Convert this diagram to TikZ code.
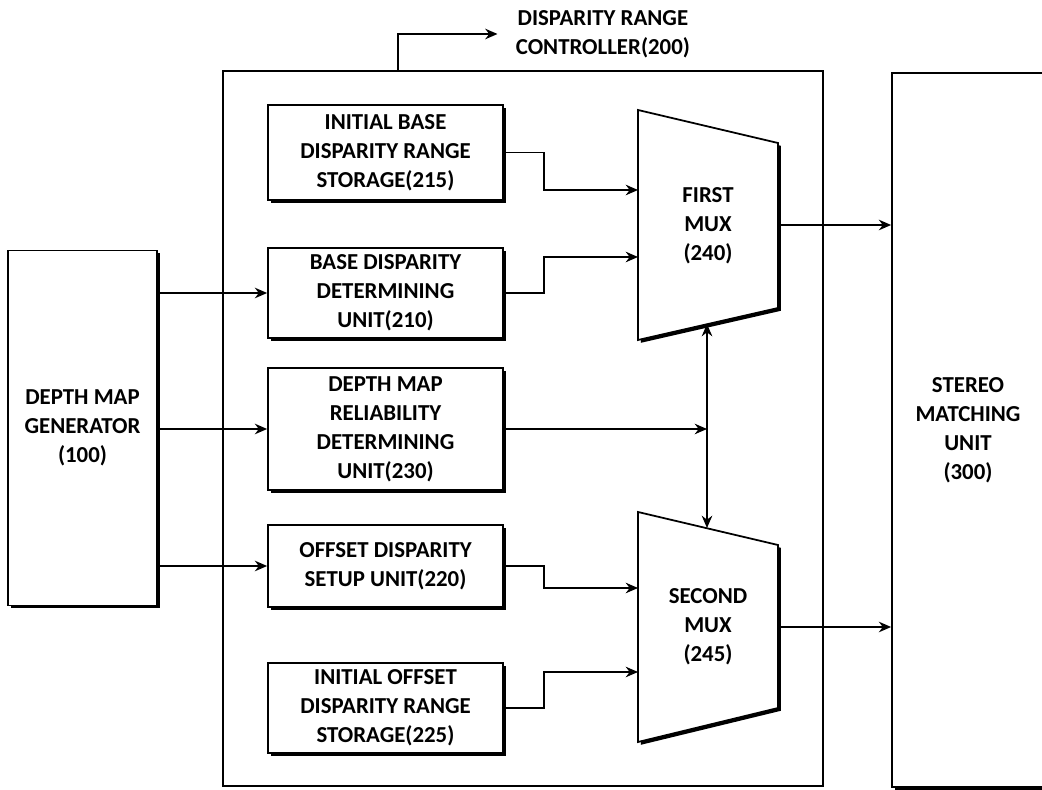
\documentclass[tikz,border=0pt]{standalone}
\usepackage{fontspec}
\setmainfont{Carlito}
\usetikzlibrary{arrows.meta,positioning,shadows}

\begin{document}
\begin{tikzpicture}[x=0.02cm, y=-0.02cm, line width=1pt,
  unit/.style={draw, fill=white, align=center, inner sep=2pt,
    font=\fontsize{13}{16.5}\selectfont\bfseries,
    drop shadow={shadow xshift=1.6pt, shadow yshift=-1.6pt, opacity=1, fill=black}},
  frame/.style={draw},
  muxbody/.style={draw, fill=white,
    drop shadow={shadow xshift=1.6pt, shadow yshift=-1.6pt, opacity=1, fill=black}},
  txt/.style={align=center, inner sep=0pt, font=\fontsize{13}{16.5}\selectfont\bfseries},
  link/.style={-{Stealth[length=7pt,width=6pt]}}]
  \useasboundingbox (0,0) rectangle (1042,790);

  %% Controller frame and its label
  \node[frame, minimum width=12cm, minimum height=14.3cm] (ctrl) at (523,428.5) {};
  \node[txt, anchor=west] (ctrllbl) at (515,34) {DISPARITY RANGE\\CONTROLLER(200)};
  \coordinate (ctrltap) at (398,71);
  \draw[link] (ctrltap) |- ([xshift=-0.35cm]ctrllbl.west);

  %% Outer units
  \node[unit, minimum width=2.98cm, minimum height=7.1cm] (dmg) at (82.5,428) {DEPTH MAP\\GENERATOR\\(100)};
  \node[unit, minimum width=3.04cm, minimum height=14.28cm] (smu) at (968,430) {STEREO\\MATCHING\\UNIT\\(300)};

  %% Units inside the controller
  \node[unit, minimum width=4.7cm, minimum height=1.9cm] (b215) at (385.5,152.5) {INITIAL BASE\\DISPARITY RANGE\\STORAGE(215)};
  \node[unit, minimum width=4.7cm, minimum height=1.8cm] (b210) at (385.5,293) {BASE DISPARITY\\DETERMINING\\UNIT(210)};
  \node[unit, minimum width=4.7cm, minimum height=2.44cm] (b230) at (385.5,429) {DEPTH MAP\\RELIABILITY\\DETERMINING\\UNIT(230)};
  \node[unit, minimum width=4.7cm, minimum height=1.64cm] (b220) at (385.5,566) {OFFSET DISPARITY\\SETUP UNIT(220)};
  \node[unit, minimum width=4.7cm, minimum height=1.8cm] (b225) at (385.5,708) {INITIAL OFFSET\\DISPARITY RANGE\\STORAGE(225)};

  %% Multiplexers
  \draw[muxbody] (638,110) -- (778,143) -- (778,308) -- (638,340) -- cycle;
  \node[txt] (mux1) at (708,226) {FIRST\\MUX\\(240)};
  \coordinate (mux1a) at (638,190);
  \coordinate (mux1b) at (638,257);
  \coordinate (mux1out) at (778,225);
  \coordinate (mux1sel) at (707,324);

  \draw[muxbody] (638,512) -- (778,545) -- (778,708) -- (638,742) -- cycle;
  \node[txt] (mux2) at (708,627) {SECOND\\MUX\\(245)};
  \coordinate (mux2a) at (638,588);
  \coordinate (mux2b) at (638,672);
  \coordinate (mux2out) at (778,627);
  \coordinate (mux2sel) at (707,528);
  \coordinate (selfork) at (707,429);

  %% Connections
  \draw[link] (dmg.east |- b210.west) -- (b210.west);
  \draw[link] (dmg.east |- b230.west) -- (b230.west);
  \draw[link] (dmg.east |- b220.west) -- (b220.west);
  \draw[link] (b215.east) -- ++(40,0) |- (mux1a);
  \draw[link] (b210.east) -- ++(40,0) |- (mux1b);
  \draw[link] (b220.east) -- ++(40,0) |- (mux2a);
  \draw[link] (b225.east) -- ++(40,0) |- (mux2b);
  \draw[link] (b230.east) -- (selfork);
  \draw[link] (selfork) -- (mux1sel);
  \draw[link] (selfork) -- (mux2sel);
  \draw[link] (mux1out) -- (mux1out -| smu.west);
  \draw[link] (mux2out) -- (mux2out -| smu.west);
\end{tikzpicture}
\end{document}
